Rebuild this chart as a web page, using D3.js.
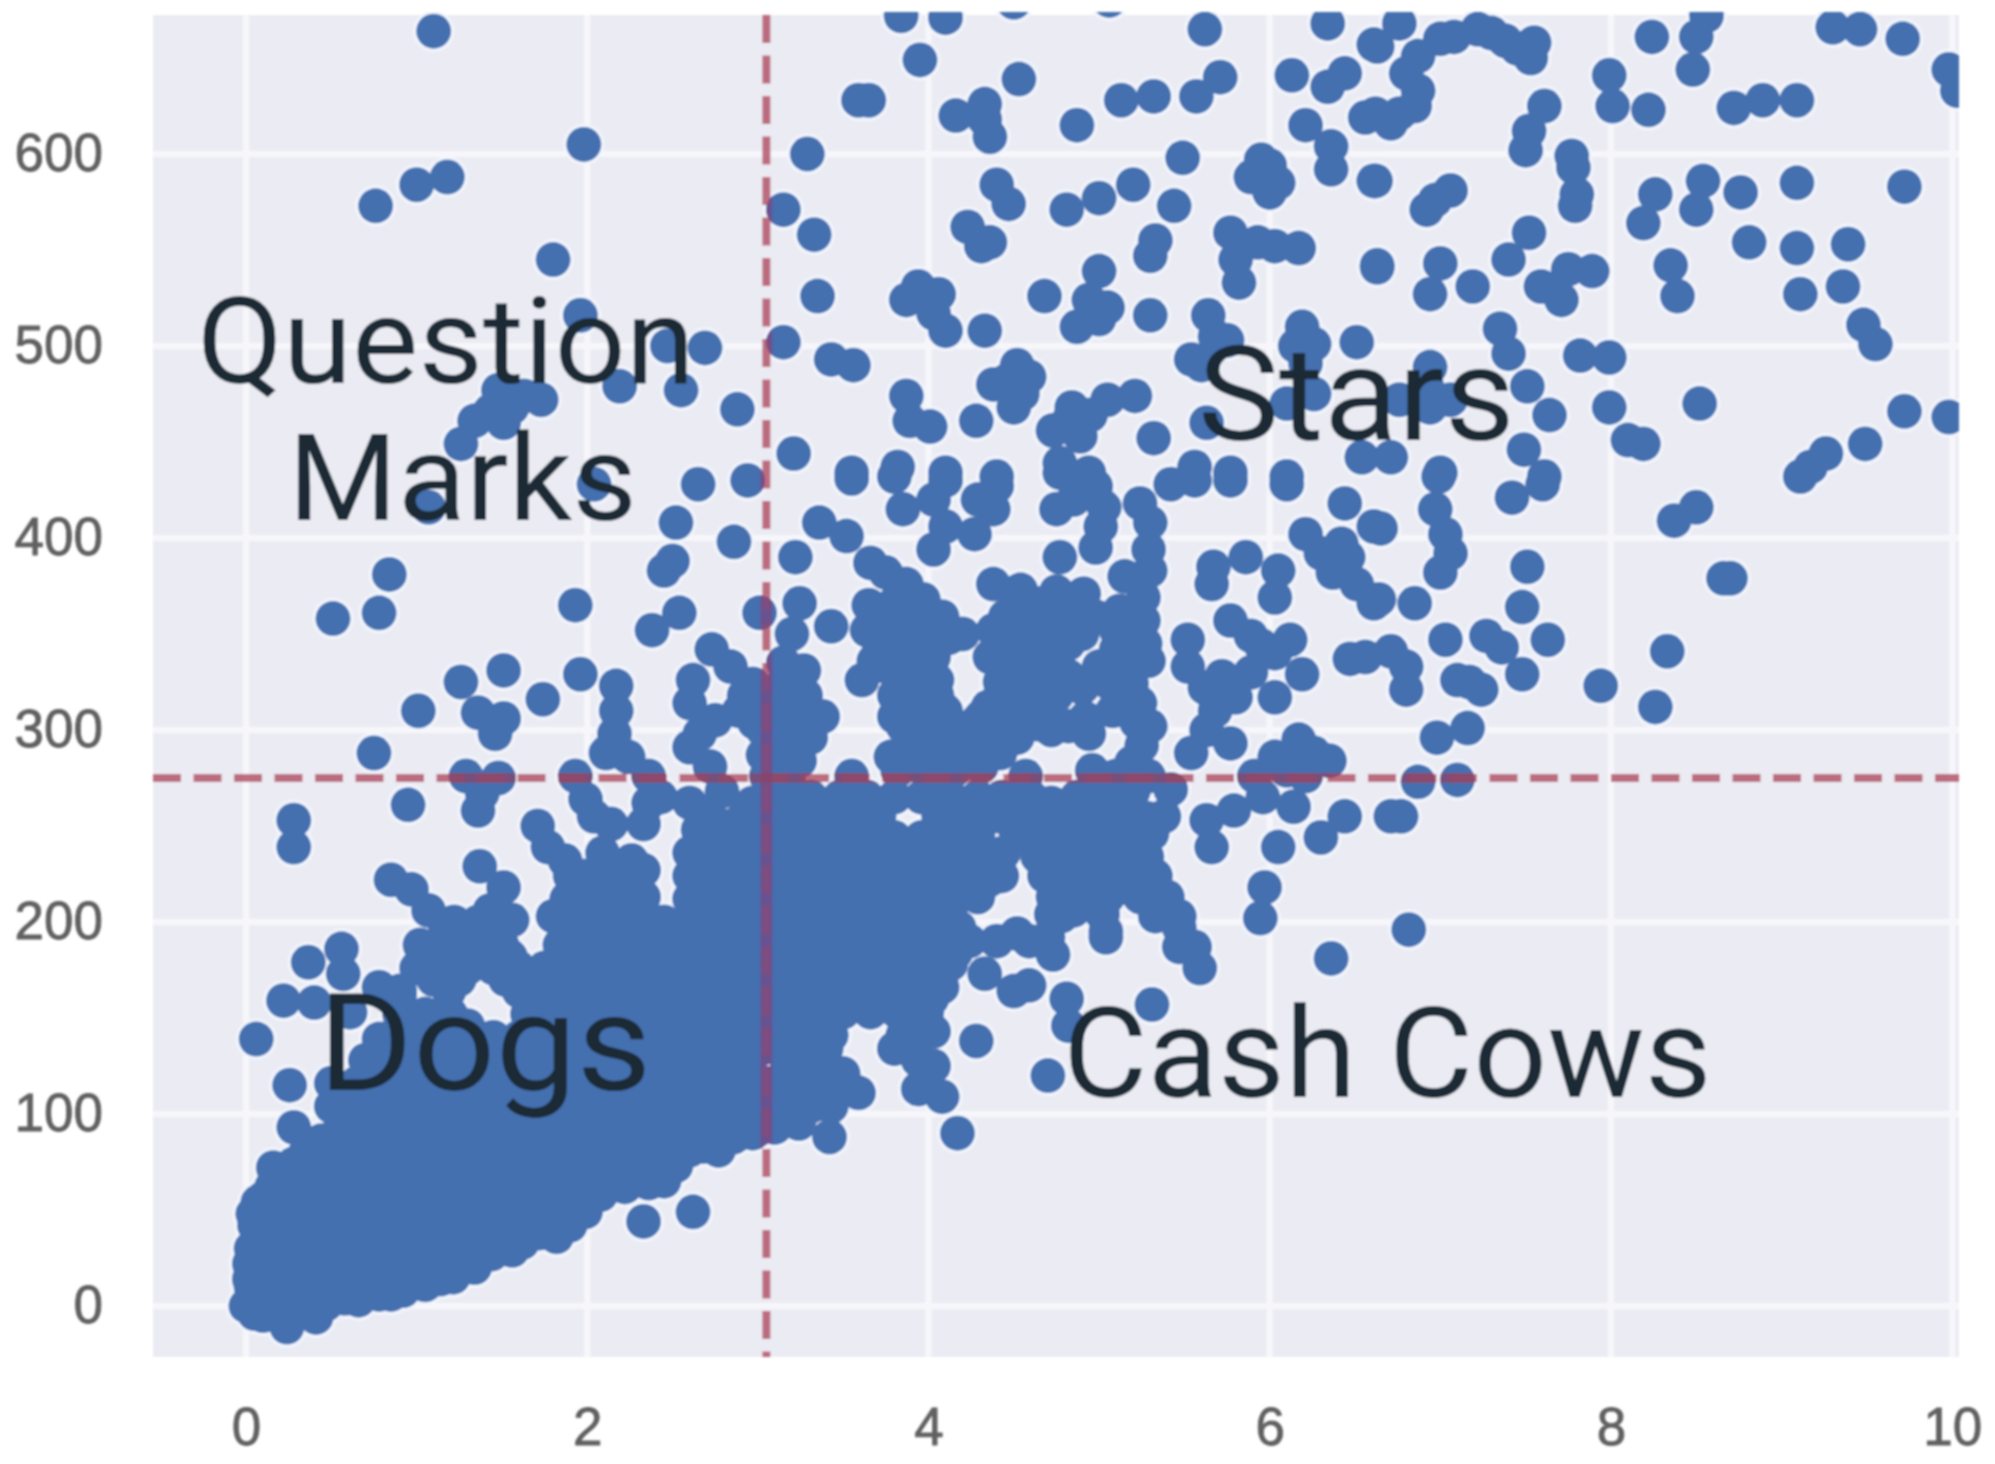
<!DOCTYPE html>
<html>
<head>
<meta charset="utf-8">
<script src="https://cdnjs.cloudflare.com/ajax/libs/d3/7.8.5/d3.min.js"></script>
<style>
  html, body { margin: 0; background: #fff; }
  .tick text { font-family: "Liberation Sans", Arial, sans-serif; fill: #606060; stroke: #606060; stroke-width: 0.8; }
  .label { font-family: Roboto, sans-serif; font-weight: 400; fill: #1a2a34; }
</style>
</head>
<body>
<script>
// axis ticks and the two split values
const xTicks = [0, 2, 4, 6, 8, 10];
const yTicks = [0, 100, 200, 300, 400, 500, 600];
const splitX = 3.05;
const splitY = 275;

// stretch: the pasted labels in the picture are a little wider than Roboto
const quadrantLabels = [
    { text: "Question", x: 197, y: 383, size: 120, stretch: 1.043 },
    { text: "Marks", x: 288, y: 520, size: 120, stretch: 1.047 },
    { text: "Stars", x: 1198, y: 440, size: 131, stretch: 1.043 },
    { text: "Dogs", x: 318, y: 1090, size: 136, stretch: 1.064 },
    { text: "Cash Cows", x: 1063, y: 1097, size: 126, stretch: 1.03 }
];

// points, quadrant by quadrant
const questionMarks = [
    [1.10,664],[1.98,605],[1.18,588],[1.00,584],[0.76,573],[1.80,545],[1.96,516],[2.47,500],[2.69,499],[2.19,479],[2.55,477],[2.88,467],
    [1.48,477],[1.63,474],[1.73,472],[1.56,468],[1.43,466],[1.34,461],[1.26,449],[1.51,460],
    [2.65,428],[2.94,430],[2.52,408],[2.50,388],[2.45,383],[2.86,398],[2.54,361],[2.38,352],[3.01,361],
    [0.84,381],[0.78,361],[0.51,358],[1.93,365],[1.07,416],[2.04,428],
    [1.51,331],[1.26,325],[1.96,329],[1.74,316],[1.01,310],[1.36,309],[1.51,306],[1.46,298],
    [0.75,288],[2.17,323],[2.17,310],[2.16,298],[2.11,288],[2.24,286],[1.29,276],[1.48,275],[1.93,276],[2.36,276],
    [2.73,342],[2.62,326],[2.84,333],[2.60,314],[2.75,305],[2.89,310],[2.97,324],[3.04,314],[2.60,291],[2.72,281],[3.03,287],[3.05,276],
    [2.92,318],[2.98,304],[2.66,298],[3.03,300]
];

const stars = [
    [3.84,672],[4.10,671],[3.95,649],[3.59,628],[3.65,628],[4.53,639],[4.16,620],[4.33,626],[4.36,609],[4.33,618],[4.87,615],[5.13,628],[5.32,630],[5.57,630],[5.71,640],[5.62,665],[6.34,668],[6.61,657],
    [4.50,679],[5.06,680],
    [6.13,641],[6.34,635],[6.44,642],[6.21,615],[6.56,619],[6.36,604],[6.36,592],[6.61,586],[5.49,598],[3.29,600],[5.95,597],[6.00,594],[5.89,588],[6.05,585],[6.00,580],[5.95,588],
    [3.15,571],[3.33,558],[4.40,584],[4.47,574],[4.81,571],[5.00,577],[5.20,584],[5.44,573],[5.33,555],[5.30,547],[4.23,562],[4.31,552],[4.36,554],[5.77,559],[5.93,554],[6.17,551],[5.82,533],[6.63,542],[5.80,545],[6.03,552],
    [3.35,526],[3.87,524],[3.94,531],[4.06,527],[4.10,508],[4.03,517],[4.33,508],[4.68,526],[5.00,539],[4.94,524],[5.05,520],[4.87,510],[5.00,514],[5.30,516],[5.64,516],[5.54,493],[5.75,503],[6.51,502],[6.19,510],[6.26,501],[6.21,491],[6.15,500],[5.68,505],[5.60,490],
    [3.15,502],[3.43,493],[3.56,490],[3.87,474],[4.01,458],[3.89,461],[4.28,461],[4.46,482],[4.38,480],[4.59,484],[4.50,468],[5.21,474],[5.05,472],[4.84,468],[4.82,461],[4.73,456],[4.89,453],[5.32,452],[5.63,460],[4.95,464],[4.52,490],[4.55,475],
    [3.21,444],[3.55,434],[3.82,437],[4.10,434],[4.40,432],[4.77,439],[4.94,434],[5.56,437],[5.77,434],[6.10,432],[6.54,442],[6.26,475],[6.10,470],
    // right hand loop and outliers
    [6.76,668],[7.08,661],[7.22,665],[7.38,659],[7.55,658],[7.53,650],[6.87,651],[6.80,642],[6.87,633],[6.76,621],[6.62,621],[6.71,616],[6.85,625],[6.63,656],[7.00,660],[7.30,663],[7.45,655],
    [7.61,625],[7.52,612],[7.50,602],[7.77,599],[7.78,593],[7.80,579],[7.79,573],[7.99,641],[8.01,625],[8.22,623],[8.24,661],[8.50,661],[8.48,644],[8.56,672],[8.72,624],[8.89,628],[9.09,628],[9.30,666],[9.46,665],[9.71,660],[9.98,644],[10.03,633],
    [6.62,586],[6.92,571],[7.06,581],[6.97,576],[8.26,579],[8.19,564],[8.54,586],[8.50,571],[8.76,580],[9.09,585],[9.72,583],[8.81,554],[9.09,551],[9.39,553],[9.11,527],[9.36,531],[8.35,542],[8.39,526],
    [7.52,559],[7.40,545],[7.00,543],[6.94,527],[7.19,531],[6.63,541],[7.59,531],[7.71,524],[7.75,540],[7.89,539],[9.48,511],[9.55,501],[7.35,509],[7.40,496],[7.82,495],[7.99,494],[7.99,468],[8.52,470],
    [7.51,479],[7.64,464],[8.10,451],[8.19,449],[7.49,446],[9.72,466],[9.98,463],[9.49,449],[9.26,444],[9.17,437],[9.11,432],[7.00,434],[7.61,432],[6.94,489],[6.94,468],[6.71,442],[6.76,472],[6.92,479],[7.06,472],[6.99,432],[7.42,421],[7.60,428],
    [8.50,416],[8.37,409],[6.97,415],[7.03,402],[7.06,392],[7.00,382],[6.65,405],[7.51,385],[7.48,364],[6.85,366],[6.64,368],[8.66,379],[8.70,379],[7.63,347],[7.03,347],[7.27,349],[7.36,343],[7.48,329],[6.71,341],[6.80,333],[6.80,321],[7.10,326],[7.24,321],[7.17,325],[8.33,341],[7.94,323],[8.26,312],[7.16,301],[6.98,296],[7.10,274],[6.87,273],
    // middle of the quadrant
    [3.55,431],[3.80,432],[4.10,430],[4.40,427],[3.85,415],[4.03,420],[4.29,420],[4.38,415],[4.27,402],[4.03,394],[4.10,406],[4.77,434],[4.98,427],[5.03,416],[4.75,415],[5.01,406],[4.98,395],[4.77,390],[4.85,420],
    [5.24,418],[5.30,408],[5.29,394],[5.30,383],[5.15,380],[5.26,369],[5.26,357],[5.27,345],[5.29,336],[5.19,324],[5.24,314],[5.30,302],
    [5.42,428],[5.56,430],[5.77,430],[6.10,428],[6.44,418],[6.21,402],[6.42,397],[6.61,406],[6.37,382],[6.51,376],[6.61,366],[6.30,392],[6.46,390],
    [5.67,385],[5.66,376],[5.86,390],[6.05,383],[6.03,369],[5.77,357],[5.89,349],[6.12,347],[6.03,340],[6.19,329],[6.47,337],[6.56,338],[5.52,347],[5.52,333],[5.72,328],[5.89,330],[6.03,317],[5.80,317],[5.68,310],[5.63,300],[5.54,288],[5.77,293],[5.95,344],[5.62,322],
    [3.22,390],[3.36,408],[3.52,401],[3.66,387],[3.87,376],[3.75,382],[3.245,366],[3.20,350],[3.43,354],[3.27,331],[3.22,321],[3.38,307],[3.31,296],[3.245,284],[3.15,324],[3.10,314],[3.175,288],[3.30,310],
    [3.71,357],[3.89,357],[4.08,359],[4.20,350],[3.71,345],[3.94,347],[4.03,338],[3.61,326],[3.75,333],[3.94,330],[4.01,319],[3.80,307],[3.99,305],[3.85,288],[4.06,288],[3.82,279],[3.55,276],[4.01,296],[4.26,291],[4.31,281],[4.15,279],[3.82,345],[3.85,320],[3.90,295],[4.10,310],
    [4.38,376],[4.54,373],[4.68,366],[4.45,359],[4.38,352],[4.36,338],[4.61,354],[4.77,357],[4.91,371],[4.98,359],[5.10,352],[5.10,342],[4.77,343],[4.64,336],[4.50,328],[4.68,326],[4.82,328],[5.15,330],[5.00,333],[4.90,350],[4.55,345],
    [4.50,314],[4.68,314],[4.31,307],[4.45,302],[4.64,303],[4.82,302],[4.94,298],[4.40,315],[4.60,322],[4.75,318],[4.57,276],[4.96,279],[5.19,283],[5.10,276],[5.29,276],
    [5.91,276],[6.03,286],[6.17,295],[6.21,276],[6.35,284],[6.10,279],[6.26,288]
];

// the solid parts of the upper middle, where single dots cannot be told apart
const starsSolid = [
    [3.65,365],[3.80,366],[3.97,368],[4.12,348],[3.64,352],[3.78,350],[3.88,338],[4.00,352],[3.68,336],[3.83,332],[4.05,326],
    [3.80,318],[3.92,314],[4.05,318],[3.85,302],[3.95,296],[4.08,300],[3.78,286],[3.92,282],[4.02,278],[4.18,288],[4.35,296],[4.15,300],[4.28,304],[4.42,288],
    [3.15,335],[3.15,310],[3.22,300],[3.12,298],[3.28,318],[3.18,276],
    [4.50,362],[4.62,366],[4.75,372],[4.55,350],[4.70,345],[4.50,338],[4.85,362],[4.82,345],[5.12,362],[5.20,340],[5.18,352],[5.05,325],[5.12,318],[5.22,304],[4.90,322],[4.58,310],[4.42,325],[4.35,312],[4.92,306],[4.72,300],[4.52,296],[5.08,310],[5.25,292],
    [4.78,330],[4.58,332],[4.62,342]
];

const dogs = [
    // outer edge, low x
    [0.56,186],[0.365,179],[0.57,173],[0.22,159],[0.40,158],[0.06,139],[0.78,139],[0.256,115],[0.28,93],[0.78,166],[0.90,162],[0.61,153],[0.73,121],
    [0.28,253],[0.28,239],[0.95,261],[1.36,258],[1.385,267],[1.71,250],[1.99,264],[2.04,255],[2.14,251],[2.36,262],[2.33,251],[2.43,265],
    [0.85,222],[0.97,217],[1.07,206],[1.17,196],[1.37,229],[1.51,218],[1.43,206],[1.56,201],[1.77,239],[1.87,232],[2.09,236],[2.26,232],[2.33,227],[1.80,203],[1.99,224],[2.24,213],[2.33,213],[2.02,201],
    [0.025,3],[0.05,-4],[0.24,-11],[0.41,-6],[0.16,72],[0.07,54],[0.12,36],[0.12,22],
    [0.58,4],[0.78,6],[0.92,8],[1.215,15],[1.34,20],[1.56,29],[1.82,36],[1.99,49],[2.33,44],[2.62,49],[2.45,65],[2.77,81],[2.97,90],
    // filled triangle, row by row
    [0.05,8],[0.18,8],[0.32,8],[0.46,8],[0.60,8],[0.72,9],
    [0.08,20],[0.22,20],[0.36,20],[0.50,20],[0.64,20],[0.78,20],[0.92,20],[1.06,20],[1.22,21],
    [0.10,32],[0.24,32],[0.38,32],[0.52,32],[0.66,32],[0.80,32],[0.94,32],[1.08,32],[1.22,32],[1.36,32],[1.50,33],
    [0.10,44],[0.25,44],[0.40,44],[0.55,44],[0.70,44],[0.85,44],[1.00,44],[1.15,44],[1.30,44],[1.45,44],[1.60,44],[1.75,45],
    [0.10,56],[0.25,56],[0.40,56],[0.55,56],[0.70,56],[0.85,56],[1.00,56],[1.15,56],[1.30,56],[1.45,56],[1.60,56],[1.75,56],[1.90,57],
    [0.20,68],[0.35,68],[0.50,68],[0.65,68],[0.80,68],[0.95,68],[1.10,68],[1.25,68],[1.40,68],[1.55,68],[1.70,68],[1.85,68],[2.00,68],[2.15,68],[2.33,69],
    [0.35,80],[0.50,80],[0.65,80],[0.80,80],[0.95,80],[1.10,80],[1.25,80],[1.40,80],[1.55,80],[1.70,80],[1.85,80],[2.00,80],[2.15,80],[2.30,80],[2.45,80],[2.60,81],
    [0.55,92],[0.70,92],[0.85,92],[1.00,92],[1.15,92],[1.30,92],[1.45,92],[1.60,92],[1.75,92],[1.90,92],[2.05,92],[2.20,92],[2.35,92],[2.50,92],[2.65,92],[2.80,92],[2.95,93],
    [0.50,104],[0.65,104],[0.80,104],[0.95,104],[1.10,104],[1.25,104],[1.40,104],[1.55,104],[1.70,104],[1.85,104],[2.00,104],[2.15,104],[2.30,104],[2.45,104],[2.60,104],[2.75,104],[2.90,104],[3.03,104],
    [0.50,116],[0.65,116],[0.80,116],[0.95,116],[1.10,116],[1.25,116],[1.40,116],[1.55,116],[1.70,116],[1.85,116],[2.00,116],[2.15,116],[2.30,116],[2.45,116],[2.60,116],[2.75,116],[2.90,116],[3.05,116],
    [0.70,128],[0.85,128],[1.00,128],[1.15,128],[1.30,128],[1.45,128],[1.60,128],[1.75,128],[1.90,128],[2.05,128],[2.20,128],[2.35,128],[2.50,128],[2.65,128],[2.80,128],[2.95,128],
    [0.85,140],[1.00,140],[1.15,140],[1.30,140],[1.45,140],[1.60,140],[1.75,140],[1.90,140],[2.05,140],[2.20,140],[2.35,140],[2.50,140],[2.65,140],[2.80,140],[2.95,140],
    [0.90,152],[1.05,152],[1.20,152],[1.30,146],[1.65,152],[1.80,152],[1.95,152],[2.10,152],[2.25,152],[2.40,152],[2.55,152],[2.70,152],[2.85,152],[3.00,152],
    [0.90,164],[1.19,164],[1.60,164],[1.75,164],[1.90,164],[2.05,164],[2.20,164],[2.35,164],[2.50,164],[2.65,164],[2.80,164],[2.95,164],
    [1.00,176],[1.15,176],[1.30,176],[1.45,176],[1.60,176],[1.75,176],[1.90,176],[2.05,176],[2.20,176],[2.35,176],[2.50,176],[2.65,176],[2.80,176],[2.95,176],
    [1.02,188],[1.17,188],[1.36,188],[1.50,188],[1.84,188],[1.98,188],[2.10,188],[2.25,188],[2.40,188],[2.55,188],[2.70,188],[2.85,188],[3.00,188],
    [1.22,200],[1.36,200],[1.88,200],[2.15,200],[2.30,200],[2.45,200],[2.60,200],[2.75,200],[2.90,200],[3.05,200],
    [1.88,212],[2.00,212],[2.15,212],[2.30,210],[2.60,212],[2.75,212],[2.90,212],[3.05,212],
    [1.90,224],[2.05,224],[2.20,224],[2.60,224],[2.75,224],[2.90,224],[3.05,224],
    [2.60,236],[2.75,236],[2.90,236],[3.05,236],
    [2.65,248],[2.84,250],[3.02,246],[2.60,262],[2.79,268],[2.97,262],[3.05,256]
];

// second pass through the triangle, between the rows above
const dogsSolid = [
    [0.00,0],[0.03,10],[0.10,-5],[0.15,-3],[0.30,-4],[0.33,1],[0.02,22],[0.02,14],[0.18,2],[0.03,30],[0.05,42],[0.04,48],[0.47,1],[0.66,3],[0.85,6],[1.05,11],[1.14,14],
    [0.12,14],[0.26,14],[0.40,14],[0.55,14],[0.70,14],[0.85,14],[1.00,14],[1.12,17],[1.28,22],[1.44,27],[1.62,33],[1.72,38],[1.90,42],[2.08,58],[2.22,62],[2.36,64],[2.52,73],[2.68,83],[2.86,88],[3.00,92],
    [0.17,26],[0.31,26],[0.45,26],[0.59,26],[0.73,26],[0.87,26],[1.01,26],[1.15,26],[1.29,26],
    [0.17,38],[0.31,38],[0.46,38],[0.61,38],[0.76,38],[0.91,38],[1.06,38],[1.21,38],[1.36,38],[1.51,38],[1.66,40],
    [0.17,50],[0.32,50],[0.47,50],[0.62,50],[0.77,50],[0.92,50],[1.07,50],[1.22,50],[1.37,50],[1.52,50],[1.67,50],[1.84,50],
    [0.15,62],[0.27,62],[0.42,62],[0.57,62],[0.72,62],[0.87,62],[1.02,62],[1.17,62],[1.32,62],[1.47,62],[1.62,62],[1.77,62],[1.92,62],
    [0.28,74],[0.42,74],[0.57,74],[0.72,74],[0.87,74],[1.02,74],[1.17,74],[1.32,74],[1.47,74],[1.62,74],[1.77,74],[1.92,74],[2.07,74],[2.22,74],[2.37,74],
    [0.44,86],[0.57,86],[0.72,86],[0.87,86],[1.02,86],[1.17,86],[1.32,86],[1.47,86],[1.62,86],[1.77,86],[1.92,86],[2.07,86],[2.22,86],[2.37,86],[2.52,86],
    [0.62,98],[0.77,98],[0.92,98],[1.07,98],[1.22,98],[1.37,98],[1.52,98],[1.67,98],[1.82,98],[1.97,98],[2.12,98],[2.27,98],[2.42,98],[2.57,98],[2.72,98],[2.87,98],
    [0.57,110],[0.72,110],[0.87,110],[1.02,110],[1.17,110],[1.32,110],[1.47,110],[1.62,110],[1.77,110],[1.92,110],[2.07,110],[2.22,110],[2.37,110],[2.52,110],[2.67,110],[2.82,110],[2.97,110],
    [0.77,122],[0.92,122],[1.07,122],[1.22,122],[1.37,122],[1.52,122],[1.67,122],[1.82,122],[1.97,122],[2.12,122],[2.27,122],[2.42,122],[2.57,122],[2.72,122],[2.87,122],
    [0.92,134],[1.07,134],[1.22,134],[1.37,134],[1.52,134],[1.67,134],[1.82,134],[1.97,134],[2.12,134],[2.27,134],[2.42,134],[2.57,134],[2.72,134],[2.87,134],[3.02,134],
    [0.95,146],[1.10,146],[1.72,146],[1.87,146],[2.02,146],[2.17,146],[2.32,146],[2.47,146],[2.62,146],[2.77,146],[2.92,146],
    [1.70,158],[1.85,158],[2.00,158],[2.15,158],[2.30,158],[2.45,158],[2.60,158],[2.75,158],[2.90,158],[3.04,158],
    [1.10,170],[1.25,170],[1.52,170],[1.67,170],[1.82,170],[1.97,170],[2.12,170],[2.27,170],[2.42,170],[2.57,170],[2.72,170],[2.87,170],[3.02,170],
    [1.08,182],[1.23,182],[1.40,182],[1.55,182],[1.92,182],[2.07,182],[2.22,182],[2.37,182],[2.52,182],[2.67,182],[2.82,182],
    [1.28,194],[1.45,194],[1.92,194],[2.05,194],[2.20,194],[2.35,194],[2.50,194],[2.65,194],[2.80,194],[2.95,194],
    [2.22,206],[2.67,206],[2.82,206],[2.97,206],[2.68,218],[2.83,218],[2.98,218],[2.68,230],[2.83,230],[2.98,230],[2.68,242],[2.85,242],[2.72,255],[2.92,255]
];

const cashCows = [
    [4.17,90],[3.42,88],[3.59,111],[4.08,109],[3.94,113],[4.28,138],[4.70,120],[4.50,164],[4.59,167],[5.31,157],[4.81,160],[4.82,146],[5.04,192],[6.36,181],[5.59,176],[5.47,187],[4.73,183],[4.59,190],[4.40,190],[4.33,173],[4.03,143],[3.85,141],[3.80,134],[4.03,125],[3.50,121],[3.24,107],[3.10,93],[3.24,95],[3.43,104],
    [3.10,190],[3.27,190],[3.43,190],[3.59,190],[3.75,190],[3.92,190],[4.08,190],[4.24,190],
    [3.15,178],[3.31,178],[3.48,178],[3.64,178],[3.80,178],[3.96,178],[4.13,178],
    [3.10,166],[3.27,166],[3.43,166],[3.59,166],[3.75,166],[3.92,166],[4.08,166],
    [3.17,153],[3.34,153],[3.50,153],[3.66,153],[3.82,153],[3.99,153],
    [3.10,141],[3.27,141],[3.43,141],[3.17,128],[3.34,128],[3.94,128],[3.10,116],[3.40,116],[3.13,104],[3.31,104],
    [3.15,265],[3.31,265],[3.48,265],[3.64,265],[3.80,265],[3.96,265],[4.13,265],[4.29,265],[4.43,265],[4.87,265],[5.03,268],[5.20,268],
    [3.22,255],[3.38,255],[3.55,255],[3.71,255],[4.06,255],[4.22,255],[4.38,255],[4.68,255],[4.84,255],[4.98,253],
    [3.15,244],[3.31,244],[3.48,244],[3.64,244],[3.80,244],[3.96,244],[4.13,244],[4.29,244],[4.54,244],[4.70,244],[4.87,244],[5.03,244],[5.19,244],
    [3.22,234],[3.38,234],[3.55,234],[3.71,234],[3.87,234],[4.03,234],[4.20,234],[4.36,234],[4.64,234],[4.80,234],[4.96,234],[5.12,234],[5.28,234],
    [3.15,224],[3.31,224],[3.48,224],[3.64,224],[3.80,224],[3.96,224],[4.13,224],[4.29,224],[4.43,224],[4.68,224],[4.84,224],[5.00,224],[5.17,224],[5.33,224],
    [3.22,213],[3.38,213],[3.55,213],[3.71,213],[3.87,213],[4.03,213],[4.29,213],[4.73,213],[4.89,213],[5.05,213],[5.24,213],[5.40,213],
    [3.15,203],[3.31,203],[3.48,203],[3.64,203],[3.80,203],[3.96,203],[4.12,203],[4.78,203],[5.33,203],[5.47,203],
    [5.42,269],[5.38,255],[5.31,246],[5.40,209],[5.47,197],[5.56,187],[4.52,194],[4.70,192],[5.04,195],
    [5.66,239],[5.63,253],[5.79,258],[5.96,265],[6.14,260],[6.05,239],[6.30,244],[6.44,255],[5.97,218],[5.945,202],[6.77,255],[6.71,255],[6.815,196],
    // solid stretches just right of the split
    [3.12,178],[3.22,172],[3.38,172],[3.54,172],[3.70,172],[3.86,172],[4.02,172],[3.22,160],[3.38,160],[3.54,160],[3.70,160],[3.86,160],[4.02,160],[3.22,147],[3.38,147],[3.88,147],[3.22,134],[3.40,134],[3.92,136],[3.22,122],[3.34,116],[3.20,110],
    [3.22,184],[3.38,184],[3.54,184],[3.70,184],[3.86,184],[4.02,184],[4.16,184],[3.22,197],[3.38,197],[3.54,197],[3.70,197],[3.86,197],[4.02,197],[4.18,197],
    [4.16,212],[4.18,222],[4.36,222],[4.44,236],[4.50,250],[4.55,255],[4.60,265],[4.72,262],[4.92,262],[4.74,250],[5.10,260],[5.12,248],[5.28,254],[4.72,204],[4.85,206],[5.02,204],[4.92,218],[5.14,218],[5.30,212],[5.08,238],[5.22,230]
];

const allPoints = [...questionMarks, ...stars, ...starsSolid, ...dogs, ...dogsSolid, ...cashCows];

const svg = d3.select("body").append("svg")
    .attr("width", 1995)
    .attr("height", 1464);

// panel edges sit a little outside the data, seaborn style
const x = d3.scaleLinear().domain([-0.545, 10.04]).range([153, 1959]);
const y = d3.scaleLinear().domain([-26.6, 672.4]).range([1357, 15]);
const dotRadius = 17.5;

const defs = svg.append("defs");
defs.append("filter").attr("id", "soft")
    .append("feGaussianBlur").attr("stdDeviation", 1.2);
defs.append("clipPath").attr("id", "panel-clip")
    .append("rect")
    .attr("x", 153).attr("y", 12)
    .attr("width", 1806).attr("height", 1345);
// the split lines look solid wherever they cross the dots
defs.append("clipPath").attr("id", "dots-clip")
    .selectAll("circle")
    .data(allPoints)
    .join("circle")
    .attr("cx", d => x(d[0]))
    .attr("cy", d => y(d[1]))
    .attr("r", dotRadius);

const chart = svg.append("g").attr("filter", "url(#soft)");

chart.append("rect")
    .attr("x", 153).attr("y", 15)
    .attr("width", 1806).attr("height", 1342)
    .attr("fill", "#ebebf3");

// gridlines
chart.append("g").selectAll("line")
    .data(xTicks)
    .join("line")
    .attr("x1", d => x(d)).attr("x2", d => x(d))
    .attr("y1", 15).attr("y2", 1357)
    .attr("stroke", "#f7f7fb").attr("stroke-width", 6);
chart.append("g").selectAll("line")
    .data(yTicks)
    .join("line")
    .attr("x1", 153).attr("x2", 1959)
    .attr("y1", d => y(d)).attr("y2", d => y(d))
    .attr("stroke", "#f7f7fb").attr("stroke-width", 6);

// axes, text only
const xAxis = chart.append("g")
    .attr("transform", "translate(0,1357)")
    .call(d3.axisBottom(x).tickValues(xTicks).tickSize(0).tickPadding(50));
const yAxis = chart.append("g")
    .attr("transform", "translate(153,0)")
    .call(d3.axisLeft(y).tickValues(yTicks).tickSize(0).tickPadding(50));
xAxis.select(".domain").remove();
yAxis.select(".domain").remove();
svg.selectAll(".tick text").attr("font-size", 53);

const dots = chart.append("g").attr("clip-path", "url(#panel-clip)");
dots.append("g").selectAll("circle")
    .data(allPoints)
    .join("circle")
    .attr("cx", d => x(d[0]))
    .attr("cy", d => y(d[1]))
    .attr("r", dotRadius + 3)
    .attr("fill", "#f3f7fe");
dots.append("g").selectAll("circle")
    .data(allPoints)
    .join("circle")
    .attr("cx", d => x(d[0]))
    .attr("cy", d => y(d[1]))
    .attr("r", dotRadius)
    .attr("fill", "#4470b0");

// split lines, dashes first and then the darker tint over the dots
const lines = chart.append("g")
    .attr("stroke", "#b4566a")
    .attr("stroke-width", 8)
    .attr("stroke-dasharray", "28 12.5")
    .attr("stroke-opacity", 0.85);
lines.append("line")
    .attr("x1", x(splitX)).attr("x2", x(splitX))
    .attr("y1", 15).attr("y2", 1357);
lines.append("line")
    .attr("x1", 153).attr("x2", 1959)
    .attr("y1", y(splitY)).attr("y2", y(splitY));

const tint = chart.append("g").attr("clip-path", "url(#dots-clip)");
tint.append("line")
    .attr("x1", x(splitX)).attr("x2", x(splitX))
    .attr("y1", 15).attr("y2", 1357)
    .attr("stroke", "#744a84").attr("stroke-opacity", 0.75).attr("stroke-width", 12);
tint.append("line")
    .attr("x1", 153).attr("x2", 1959)
    .attr("y1", y(splitY)).attr("y2", y(splitY))
    .attr("stroke", "#8a4468").attr("stroke-opacity", 0.75).attr("stroke-width", 10);

chart.append("g").selectAll("text")
    .data(quadrantLabels)
    .join("text")
    .attr("class", "label")
    .attr("transform", d => `translate(${d.x},${d.y}) scale(${d.stretch},1)`)
    .attr("font-size", d => d.size)
    .text(d => d.text);
</script>
</body>
</html>
